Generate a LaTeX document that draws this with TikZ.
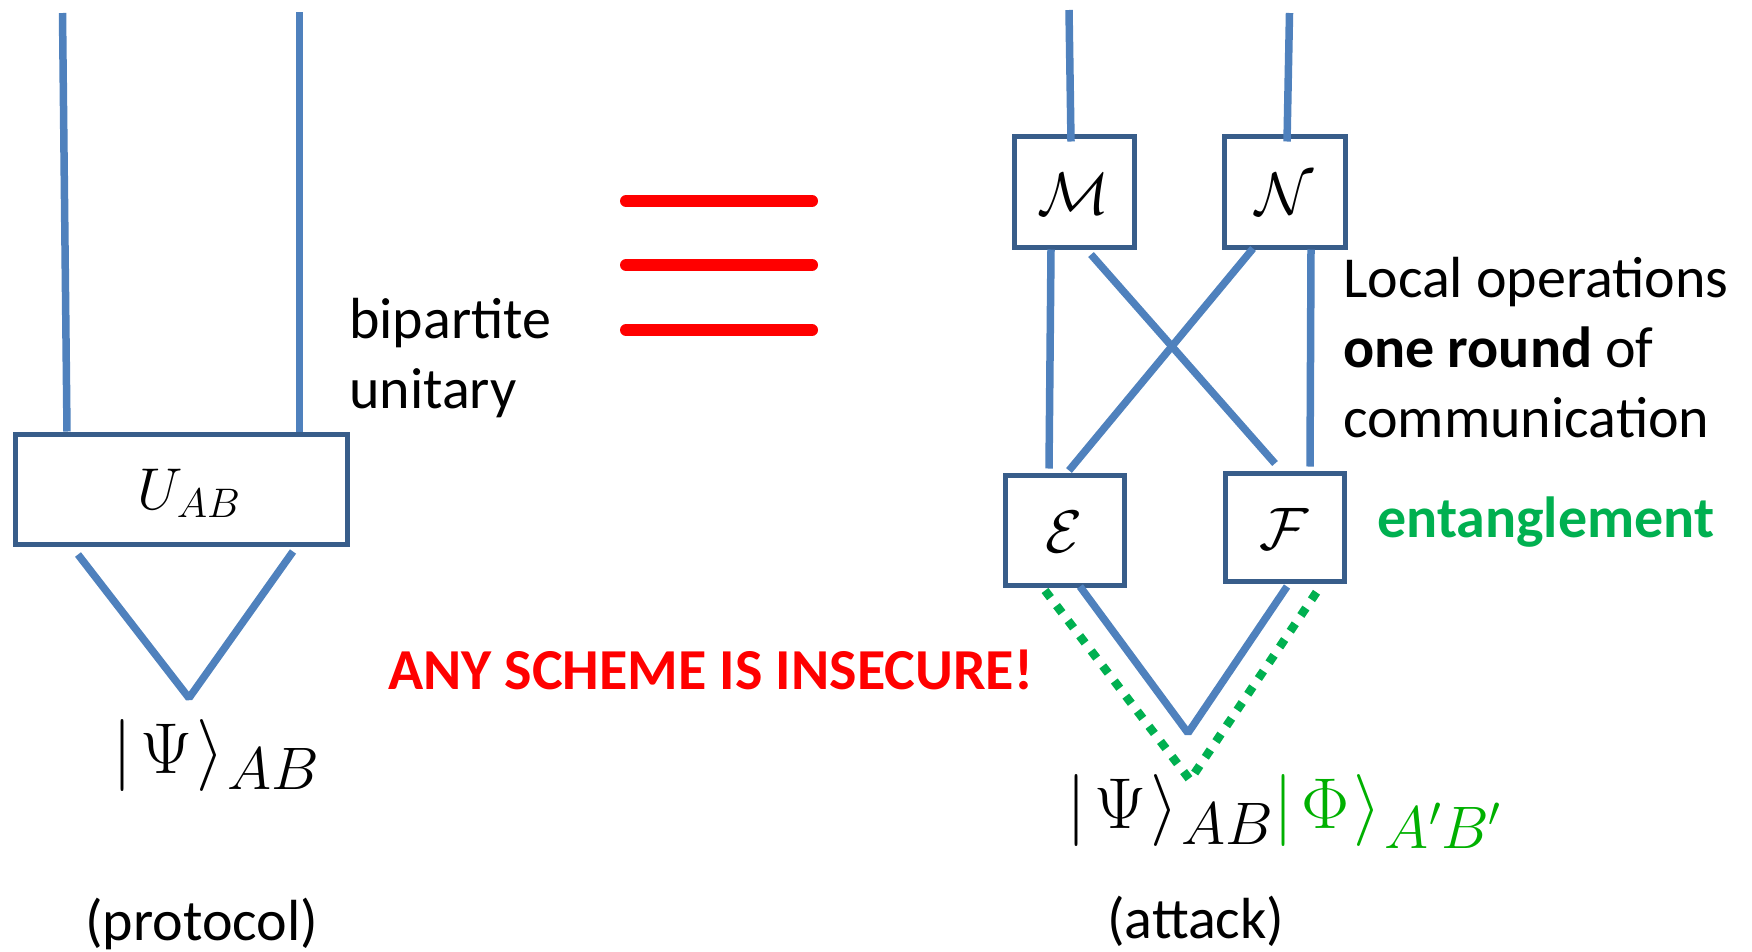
\RequirePackage{fix-cm}
\documentclass[tikz,border=0pt]{standalone}
\usepackage[no-math]{fontspec}
\setmainfont{Carlito}
\usetikzlibrary{calc}

\definecolor{wireblue}{HTML}{4F81BD}
\definecolor{boxblue}{HTML}{385D8A}
\definecolor{alertred}{HTML}{FF0000}
\definecolor{entgreen}{HTML}{00B050}
\definecolor{phigreen}{HTML}{00B000}

% subscript of a ket, set at a fixed size
\newcommand{\ketsub}[1]{{}_{\mbox{\fontsize{60}{60}\selectfont$\mkern1mu#1$}}}

\tikzset{
  wire/.style={draw=wireblue, line width=7.5pt, line join=bevel},
  ent/.style={draw=entgreen, line width=8.5pt, dash pattern=on 9pt off 10pt, line join=miter},
  opbox/.style={draw=boxblue, line width=5pt, fill=white, inner sep=0pt,
    font=\fontsize{60}{60}\selectfont, text height=48pt, text depth=3pt},
  caption/.style={inner sep=0pt, anchor=base west, font=\fontsize{58}{70}\selectfont},
  ket/.style={inner sep=0pt, anchor=base west, font=\fontsize{72}{72}\selectfont},
}

\begin{document}
\begin{tikzpicture}[x=1pt, y=-1pt]
\useasboundingbox (0,0) rectangle (1752,951);

% ---------- protocol: bipartite unitary acting on |Psi>_AB ----------
\node[opbox, minimum width=332pt, minimum height=110pt,
      font=\fontsize{59}{59}\selectfont, text height=44pt, text depth=4pt] (U) at (181,489)
  {\hspace{16pt}$U_{AB}$};

\coordinate (inA) at (62.5,13);
\coordinate (inB) at (299.5,12);
\coordinate (apexL) at (189,698);

\draw[wire] (inA) -- ([xshift=-114pt]U.north);
\draw[wire] (inB) -- ([xshift=118.5pt]U.north);
\draw[wire] ([xshift=-103pt,yshift=-8pt]U.south) -- (apexL) -- ([xshift=112pt,yshift=-5pt]U.south);

\node[ket] (psiL) at (112,773) {$\bigl|\mkern2mu\Psi\mkern1mu\bigr\rangle\ketsub{AB}$};

\node[caption, align=left] (bip) at (349,408) {bipartite\\unitary};
\node[caption] (prot) at (85,940) {(protocol)};

% ---------- equivalence sign ----------
\foreach \yy in {201,265,330}
  \draw[alertred, line width=12pt, line cap=round] (626,\yy) -- (812,\yy);

\node[caption, font=\fontsize{58}{70}\selectfont\bfseries, text=alertred] (warn) at (388,689)
  {ANY SCHEME IS INSECURE!};

% ---------- attack: local operations, one round of communication ----------
\node[opbox, minimum width=120pt, minimum height=111pt] (M) at (1074,191.5) {$\mathcal{M}$};
\node[opbox, minimum width=121pt, minimum height=111pt] (N) at (1284.5,191.5) {$\mathcal{N}$};
\node[opbox, minimum width=119pt, minimum height=110pt] (E) at (1064.5,530) {$\mathcal{E}$};
\node[opbox, minimum width=119pt, minimum height=108pt] (F) at (1284.5,527) {$\mathcal{F}$};

\coordinate (inM) at (1069,10);
\coordinate (inN) at (1289.5,13);
\coordinate (apexR) at (1188,733);
\coordinate (apexG) at (1190,780);

\draw[wire] (inM) -- ([xshift=-3pt,yshift=-8pt]M.north);
\draw[wire] (inN) -- ([xshift=2.5pt,yshift=-8pt]N.north);
\draw[wire] ([xshift=-23pt]M.south) -- ([xshift=-15.5pt,yshift=4pt]E.north);
\draw[wire] ([xshift=17pt,yshift=-5pt]M.south) -- ([xshift=-9.5pt,yshift=7pt]F.north);
\draw[wire] ([xshift=-31.5pt,yshift=1pt]N.south) -- ([xshift=4.5pt,yshift=2pt]E.north);
\draw[wire] ([xshift=26.5pt]N.south) -- ([xshift=25.5pt,yshift=4pt]F.north);
\draw[wire] ([xshift=15.5pt,yshift=1pt]E.south) -- (apexR) -- ([xshift=2.5pt,yshift=-3pt]F.south);

% shared entanglement between the two parties
\draw[ent] ([xshift=-19.5pt,yshift=-3pt]E.south) -- (apexG) -- ([xshift=32.5pt,yshift=-8pt]F.south);

\node[ket] (psiR) at (1066,828)
  {$\bigl|\mkern2mu\Psi\mkern1mu\bigr\rangle\ketsub{AB}\color{phigreen}\bigl|\mkern2mu\Phi\mkern1mu\bigr\rangle\ketsub{A'B'}$};

\node[caption, align=left] (loc) at (1343,437)
  {Local operations\\\textbf{one round} of\\communication};
\node[caption, font=\fontsize{58}{70}\selectfont\bfseries, text=entgreen] (entl) at (1377,537) {entanglement};
\node[caption] (att) at (1107,938) {(attack)};
\end{tikzpicture}
\end{document}
